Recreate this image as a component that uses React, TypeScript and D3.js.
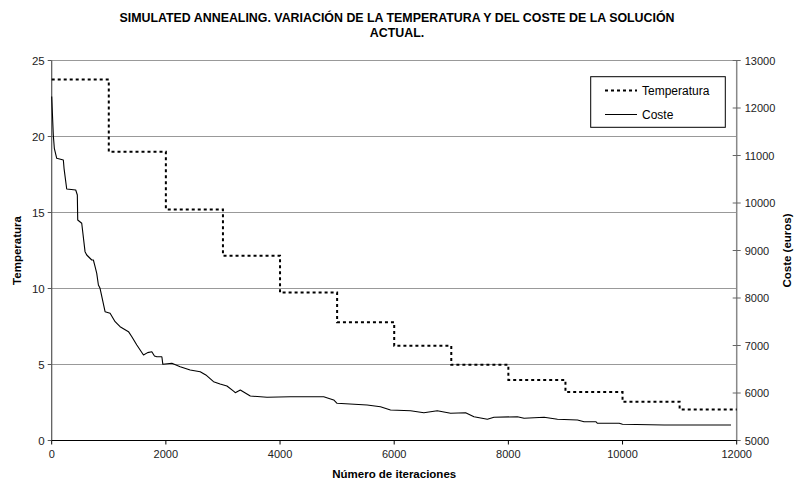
import React from "react";
import * as d3 from "d3";

const titleLines = [
  "SIMULATED ANNEALING. VARIACIÓN DE LA TEMPERATURA Y DEL COSTE DE LA SOLUCIÓN",
  "ACTUAL.",
];
const xTicks = [0, 2000, 4000, 6000, 8000, 10000, 12000];
const tempTicks = [0, 5, 10, 15, 20, 25];
const costTicks = [5000, 6000, 7000, 8000, 9000, 10000, 11000, 12000, 13000];

const tempIter = [0, 1000, 2000, 3000, 4000, 5000, 6000, 7000, 8000, 9000, 10000, 11000, 12000];
const tempValues = [23.75, 19.0, 15.2, 12.16, 9.73, 7.78, 6.23, 4.98, 3.98, 3.19, 2.55, 2.04, 2.04];

const costIter = [
  0, 28, 46, 88, 204, 216, 263, 421, 449, 456, 526, 584, 614, 702, 730, 760, 789, 818, 847,
  935, 1023, 1111, 1198, 1345, 1404, 1491, 1608, 1680, 1754, 1800, 1842, 1930, 1947, 2105,
  2251, 2426, 2602, 2700, 2835, 2950, 3070, 3186, 3216, 3304, 3479, 3772, 4181, 4765, 4940,
  4999, 5526, 5759, 5935, 6286, 6520, 6754, 6988, 7251, 7397, 7632, 7748, 8158, 8275, 8626,
  8860, 9211, 9326, 9532, 9561, 9941, 10000, 10730, 11900,
];
const costValues = [
  12240, 11432, 11152, 10941, 10905, 10730, 10295, 10274, 10168, 9642, 9573, 8975, 8905, 8800,
  8800, 8659, 8520, 8274, 8204, 7712, 7678, 7501, 7396, 7291, 7185, 7011, 6800, 6850, 6869,
  6780, 6764, 6764, 6604, 6625, 6554, 6484, 6448, 6380, 6238, 6190, 6147, 6040, 6006, 6063,
  5937, 5909, 5922, 5922, 5853, 5783, 5747, 5712, 5642, 5627, 5585, 5627, 5573, 5585, 5501,
  5446, 5488, 5501, 5467, 5488, 5446, 5432, 5396, 5396, 5362, 5362, 5341, 5326, 5326,
];

export default function App() {
  const W = 795, H = 483;
  const left = 51.7, right = 736.7, top = 60.5, bottom = 440.5;
  const x = d3.scaleLinear().domain([0, 12000]).range([left, right]);
  const yT = d3.scaleLinear().domain([0, 25]).range([bottom, top]);
  const yC = d3.scaleLinear().domain([5000, 13000]).range([bottom, top]);

  const tempLine = d3
    .line<number>()
    .x((_, i) => x(tempIter[i]))
    .y((d) => yT(d))
    .curve(d3.curveStepAfter)(tempValues) as string;
  const costLine = d3
    .line<number>()
    .x((_, i) => x(costIter[i]))
    .y((d) => yC(d))(costValues) as string;

  const font = "'Liberation Sans', Arial, sans-serif";
  const tickColor = "#222";

  return (
    <svg width={W} height={H} style={{ position: "absolute", left: 0, top: 0, background: "#fff" }} fontFamily={font}>
      <rect width={W} height={H} fill="#fff" />
      {titleLines.map((t, i) => (
        <text key={i} x={397} y={22 + i * 15} textAnchor="middle" fontSize={12.4} fontWeight="bold" fill="#000">
          {t}
        </text>
      ))}
      {/* grid */}
      {tempTicks.filter((t) => t > 0).map((t) => (
        <line key={t} x1={left} x2={right} y1={yT(t)} y2={yT(t)} stroke="#999" strokeWidth={1} />
      ))}
      {/* left axis */}
      <line x1={left} x2={left} y1={top} y2={bottom} stroke="#555" strokeWidth={1.2} />
      {tempTicks.map((t) => (
        <g key={t}>
          <line x1={left - 4} x2={left} y1={yT(t)} y2={yT(t)} stroke="#555" />
          <text x={left - 7} y={yT(t) + 4} textAnchor="end" fontSize={11.5} fill={tickColor}>
            {t}
          </text>
        </g>
      ))}
      {/* right axis */}
      <line x1={right} x2={right} y1={top} y2={bottom} stroke="#888" strokeWidth={1.5} />
      {costTicks.map((t) => (
        <g key={t}>
          <line x1={right - 4} x2={right + 4} y1={yC(t)} y2={yC(t)} stroke="#666" />
          <text x={right + 8} y={yC(t) + 4} textAnchor="start" fontSize={11} fill={tickColor}>
            {t}
          </text>
        </g>
      ))}
      {/* bottom axis */}
      <line x1={left} x2={right} y1={bottom} y2={bottom} stroke="#000" strokeWidth={1.2} />
      {xTicks.map((t) => (
        <g key={t}>
          <line x1={x(t)} x2={x(t)} y1={bottom} y2={bottom + 4} stroke="#000" />
          <text x={x(t)} y={bottom + 17} textAnchor="middle" fontSize={11} fill={tickColor}>
            {t}
          </text>
        </g>
      ))}
      {/* series */}
      <path d={tempLine} fill="none" stroke="#000" strokeWidth={2} strokeDasharray="3,3" />
      <path d={costLine} fill="none" stroke="#000" strokeWidth={1.1} strokeLinejoin="round" />
      {/* axis titles */}
      <text transform={`translate(21,${(top + bottom) / 2}) rotate(-90)`} textAnchor="middle" fontSize={11.5} fontWeight="bold">
        Temperatura
      </text>
      <text transform={`translate(791,${(top + bottom) / 2}) rotate(-90)`} textAnchor="middle" fontSize={11.5} fontWeight="bold">
        Coste (euros)
      </text>
      <text x={(left + right) / 2} y={478} textAnchor="middle" fontSize={11.5} fontWeight="bold">
        Número de iteraciones
      </text>
      {/* legend */}
      <rect x={590.7} y={76.7} width={134.6} height={50.6} fill="#fff" stroke="#000" strokeWidth={1} />
      <line x1={605} x2={637} y1={90.5} y2={90.5} stroke="#000" strokeWidth={2} strokeDasharray="3,3" />
      <text x={642} y={94.5} fontSize={12} fill="#000">Temperatura</text>
      <line x1={605} x2={637} y1={114.5} y2={114.5} stroke="#000" strokeWidth={1} />
      <text x={642} y={118.5} fontSize={12} fill="#000">Coste</text>
    </svg>
  );
}
